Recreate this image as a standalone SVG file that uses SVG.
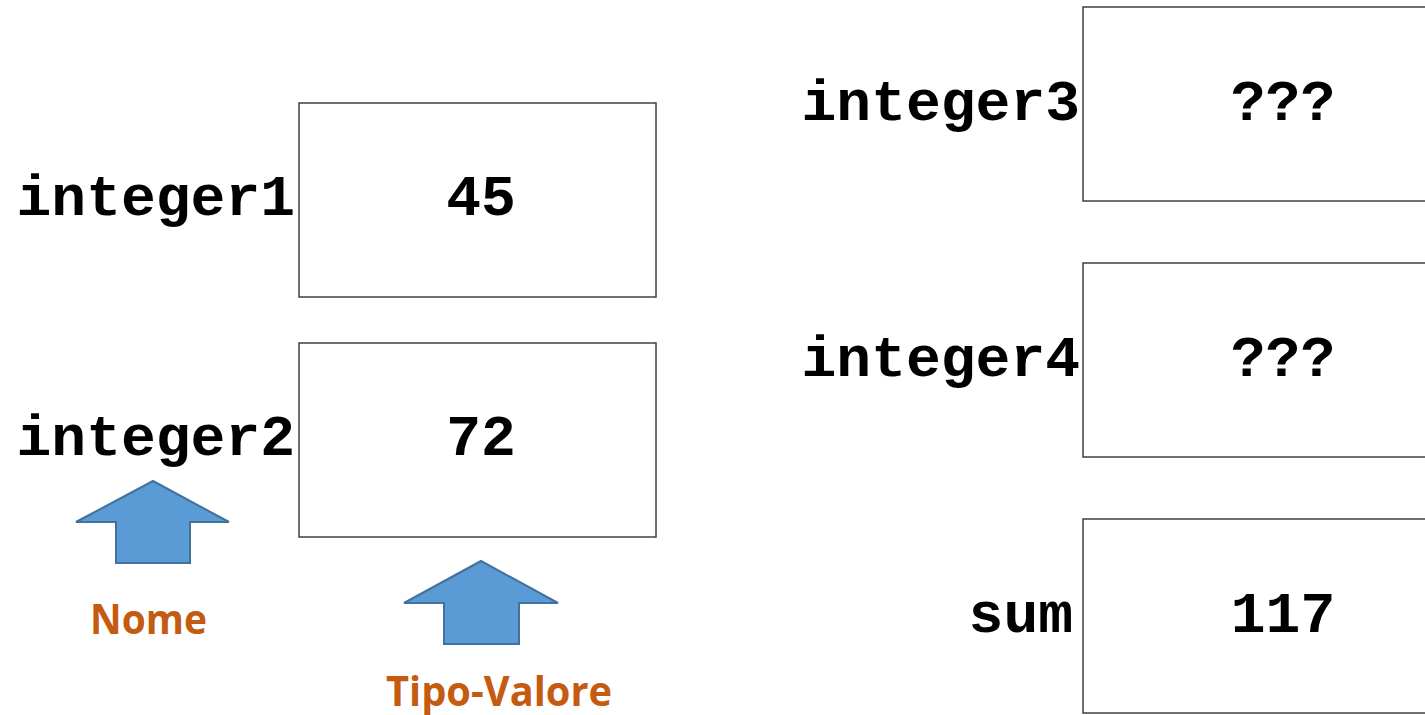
<svg xmlns="http://www.w3.org/2000/svg" width="1425" height="715" viewBox="0 0 1425 715">
<style>
.box{fill:#fff;stroke:#404040;stroke-width:1.5}
.mono{font-family:"Courier New","Liberation Mono",monospace;font-weight:bold;font-size:58px;fill:#000}
.lbl{text-anchor:end}
.val{text-anchor:middle}
.arrow{fill:#5B9BD5;stroke:#41719C;stroke-width:2}
.cap{font-family:"Open Sans","Liberation Sans",sans-serif;font-weight:bold;font-size:42px;fill:#C55A11}
</style>
<rect width="1425" height="715" fill="#fff"/>
<g id="integer1">
<rect class="box" x="299" y="103" width="357" height="194"/>
<text class="mono lbl" x="295" y="215">integer1</text>
<text class="mono val" x="481" y="215">45</text>
</g>
<g id="integer2">
<rect class="box" x="299" y="343" width="357" height="194"/>
<text class="mono lbl" x="295" y="455">integer2</text>
<text class="mono val" x="481" y="455">72</text>
</g>
<g id="integer3">
<rect class="box" x="1083" y="7" width="360" height="194"/>
<text class="mono lbl" x="1080" y="120">integer3</text>
<text class="mono val" x="1283" y="120">???</text>
</g>
<g id="integer4">
<rect class="box" x="1083" y="263" width="360" height="194"/>
<text class="mono lbl" x="1080" y="376">integer4</text>
<text class="mono val" x="1283" y="376">???</text>
</g>
<g id="sum">
<rect class="box" x="1083" y="519" width="360" height="194"/>
<text class="mono lbl" x="1073" y="632">sum</text>
<text class="mono val" x="1283" y="632">117</text>
</g>
<g id="nome">
<polygon class="arrow" points="153,481 229,522 190,522 190,563 116,563 116,522 76,522"/>
<text class="cap" x="90" y="634" textLength="117" lengthAdjust="spacingAndGlyphs">Nome</text>
</g>
<g id="tipo-valore">
<polygon class="arrow" points="481,561 558,603 519,603 519,644 444,644 444,603 404,603"/>
<text class="cap" x="386" y="706" textLength="226" lengthAdjust="spacingAndGlyphs">Tipo-Valore</text>
</g>
<g id="connectors"></g>
</svg>
